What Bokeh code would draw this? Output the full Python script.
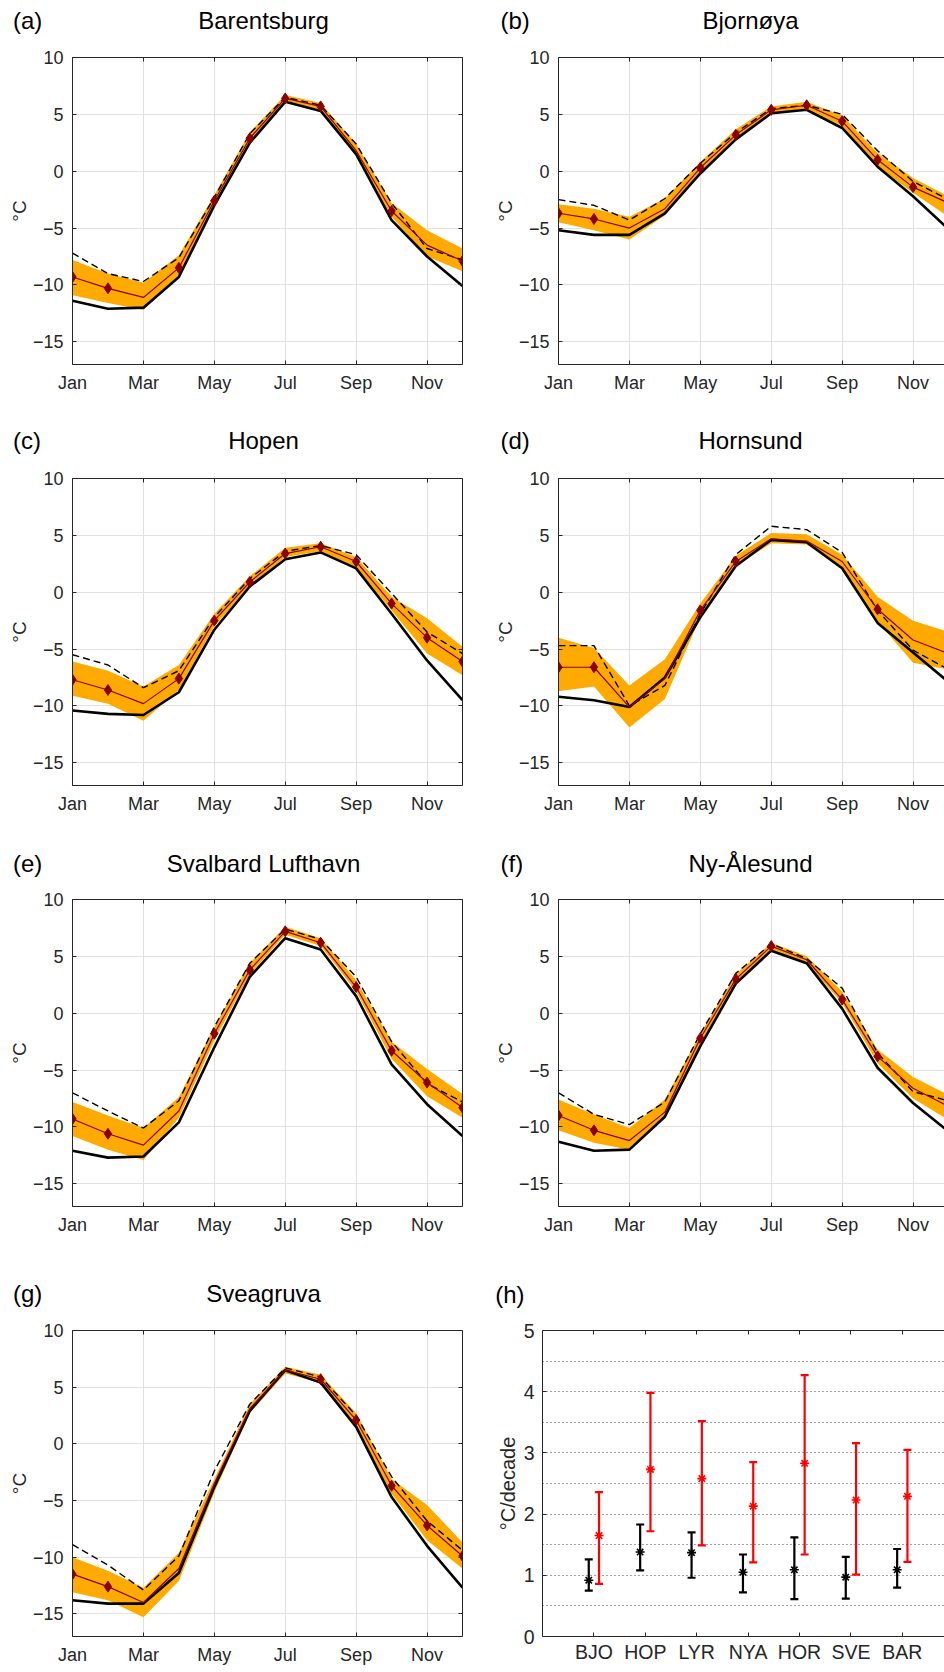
from bokeh.plotting import figure
from bokeh.models import Range1d, LinearAxis, FixedTicker
from bokeh.layouts import column, row
from bokeh.embed import file_html
from bokeh.resources import INLINE
from bokeh.core.properties import value

# ---------------- data ----------------
months = list(range(1, 13))
month_ticks = [1, 3, 5, 7, 9, 11]
month_labels = ["Jan", "Mar", "May", "Jul", "Sep", "Nov"]
temp_ticks = [-15, -10, -5, 0, 5, 10]
temp_tick_labels = ["\u221215", "\u221210", "\u22125", "0", "5", "10"]

stations = ["Barentsburg", "Bjornøya", "Hopen", "Hornsund",
            "Svalbard Lufthavn", "Ny-Ålesund", "Sveagruva"]
letters = ["(a)", "(b)", "(c)", "(d)", "(e)", "(f)", "(g)", "(h)"]

# Barentsburg
solid_a = [-11.4, -12.1, -12.0, -9.3, -3.0, 2.5, 6.1, 5.3, 1.5, -4.3, -7.5, -10.1]
dash_a = [-7.2, -9.0, -9.7, -7.6, -2.3, 3.3, 6.5, 5.8, 2.4, -2.8, -6.8, -7.8]
red_a = [-9.3, -10.3, -11.1, -8.5, -2.6, 2.9, 6.4, 5.7, 1.8, -3.5, -6.5, -7.9]
hi_a = [-7.8, -9.0, -9.8, -7.4, -2.1, 3.4, 6.7, 6.0, 2.4, -2.8, -5.2, -6.8]
lo_a = [-10.9, -11.6, -12.2, -9.1, -3.1, 2.4, 6.2, 5.4, 1.3, -4.0, -7.5, -8.8]
mk_a = [1, 2, 4, 5, 6, 7, 8, 10, 12]

# Bjornøya
solid_b = [-5.2, -5.6, -5.6, -3.7, -0.2, 2.8, 5.1, 5.4, 3.8, 0.4, -2.2, -5.1]
dash_b = [-2.5, -3.0, -4.3, -2.4, 0.7, 3.4, 5.5, 5.8, 5.0, 1.8, -0.9, -2.5]
red_b = [-3.7, -4.2, -5.0, -3.3, 0.3, 3.2, 5.4, 5.8, 4.4, 1.0, -1.4, -2.8]
hi_b = [-2.9, -3.3, -4.0, -2.4, 0.8, 3.7, 5.7, 6.1, 4.9, 1.6, -0.6, -2.2]
lo_b = [-4.5, -5.2, -6.0, -3.9, -0.2, 2.8, 5.0, 5.4, 4.0, 0.4, -1.9, -4.0]
mk_b = [1, 2, 5, 6, 7, 8, 9, 10, 11]

# Hopen
solid_c = [-10.4, -10.7, -10.8, -8.8, -3.3, 0.5, 2.9, 3.5, 2.1, -1.9, -6.0, -9.5]
dash_c = [-5.5, -6.4, -8.4, -6.9, -2.2, 1.2, 3.6, 4.1, 3.3, -0.1, -3.5, -5.4]
red_c = [-7.7, -8.6, -9.8, -7.6, -2.5, 0.9, 3.4, 4.0, 2.7, -1.0, -4.0, -6.1]
hi_c = [-6.1, -6.9, -8.3, -6.4, -1.9, 1.4, 3.9, 4.3, 3.1, -0.4, -2.3, -4.8]
lo_c = [-9.1, -9.8, -11.3, -8.6, -3.0, 0.5, 3.1, 3.6, 2.2, -1.6, -5.4, -7.3]
mk_c = [1, 2, 4, 5, 6, 7, 8, 9, 10, 11, 12]

# Hornsund
solid_d = [-9.2, -9.5, -10.1, -7.5, -2.2, 2.3, 4.6, 4.4, 2.1, -2.7, -5.3, -7.9]
dash_d = [-4.7, -4.7, -10.0, -8.2, -1.9, 3.3, 5.8, 5.5, 3.5, -1.6, -5.1, -6.8]
red_d = [-6.6, -6.6, -10.1, -7.6, -1.6, 2.7, 4.7, 4.5, 2.7, -1.5, -4.2, -5.4]
hi_d = [-4.0, -4.9, -8.2, -5.9, -1.0, 3.2, 5.2, 5.1, 3.3, -0.4, -2.5, -3.5]
lo_d = [-8.7, -8.3, -11.9, -9.4, -2.2, 2.3, 4.3, 4.2, 2.0, -2.6, -6.2, -6.8]
mk_d = [1, 2, 5, 6, 10]

# Svalbard Lufthavn
solid_e = [-12.1, -12.7, -12.6, -9.6, -3.0, 3.2, 6.6, 5.6, 1.5, -4.5, -8.0, -10.8]
dash_e = [-7.0, -8.6, -10.1, -7.7, -1.2, 4.4, 7.4, 6.5, 3.2, -2.5, -6.2, -7.8]
red_e = [-9.3, -10.6, -11.6, -8.6, -1.8, 3.8, 7.2, 6.2, 2.3, -3.3, -6.1, -8.3]
hi_e = [-7.8, -9.0, -10.1, -7.4, -1.2, 4.4, 7.6, 6.6, 2.9, -2.5, -4.9, -7.1]
lo_e = [-10.8, -12.0, -12.9, -9.2, -2.4, 3.4, 6.9, 5.9, 1.9, -4.0, -7.3, -9.2]
mk_e = [1, 2, 5, 6, 7, 8, 9, 10, 11, 12]

# Ny-Ålesund
solid_f = [-11.3, -12.1, -12.0, -9.1, -2.9, 2.6, 5.5, 4.4, 0.4, -4.8, -7.9, -10.4]
dash_f = [-7.0, -8.9, -9.8, -7.8, -1.8, 3.5, 6.1, 4.8, 2.2, -3.5, -6.9, -7.7]
red_f = [-9.0, -10.3, -11.2, -8.7, -2.2, 3.0, 5.9, 4.7, 1.2, -3.8, -6.6, -8.2]
hi_f = [-7.6, -8.9, -10.1, -7.6, -1.8, 3.4, 6.2, 5.0, 1.9, -3.2, -5.6, -7.2]
lo_f = [-10.3, -11.4, -12.0, -9.2, -2.7, 2.6, 5.6, 4.4, 0.9, -4.4, -7.5, -9.4]
mk_f = [1, 2, 5, 6, 7, 9, 10]

# Sveagruva
solid_g = [-13.8, -14.1, -14.1, -11.4, -3.8, 2.9, 6.5, 5.4, 1.5, -4.7, -9.0, -12.7]
dash_g = [-8.9, -10.7, -12.9, -9.9, -2.4, 3.5, 6.7, 5.9, 2.5, -2.9, -6.8, -9.4]
red_g = [-11.5, -12.6, -14.0, -11.0, -3.5, 3.1, 6.5, 5.7, 2.1, -3.7, -7.2, -9.9]
hi_g = [-10.0, -11.2, -12.7, -9.6, -3.1, 3.5, 6.8, 6.1, 2.7, -3.1, -5.4, -8.7]
lo_g = [-13.1, -13.8, -15.3, -12.1, -4.3, 2.7, 6.2, 5.4, 1.5, -4.4, -8.5, -11.0]
mk_g = [1, 2, 8, 9, 10, 11, 12]

# (h) trends, °C/decade
codes = ["BJO", "HOP", "LYR", "NYA", "HOR", "SVE", "BAR"]
black_mid = [0.92, 1.38, 1.37, 1.05, 1.09, 0.97, 1.09]
black_lo = [0.75, 1.08, 0.96, 0.72, 0.61, 0.62, 0.80]
black_hi = [1.26, 1.83, 1.70, 1.34, 1.62, 1.30, 1.43]
red_mid = [1.65, 2.73, 2.58, 2.13, 2.83, 2.23, 2.29]
red_lo = [0.86, 1.72, 1.49, 1.21, 1.34, 1.01, 1.22]
red_hi = [2.36, 3.98, 3.52, 2.85, 4.27, 3.16, 3.05]
trend_ticks = [0, 1, 2, 3, 4, 5]
trend_grid = [0.5, 1, 1.5, 2, 2.5, 3, 3.5, 4, 4.5]

# ---------------- style / layout ----------------
FONT = "Liberation Sans"
AX = "#262626"
ORANGE = "#ffaa00"
DARKRED = "#8b0000"

PAGE_W = 944
COL_W = 472
PX_MONTH = 390 / 11
HEAD_H = [44, 36, 36, 48]
PLOT_H = [376, 385, 385, 360]
PLOT_TOP = [13, 22, 22, 20]
FRAME_H = [307, 307, 307, 306]
TITLE_FS = "24px"
MID_TO_BASE = 8.3   # px between text-box middle and alphabetic baseline at 24px


def style_axis(ax, size="18px", labels=True):
    ax.axis_line_color = AX
    ax.axis_line_width = 1
    ax.major_tick_line_color = AX
    ax.major_tick_in = 4
    ax.major_tick_out = 0
    ax.minor_tick_line_color = None
    if labels:
        ax.major_label_text_font = FONT
        ax.major_label_text_font_size = size
        ax.major_label_text_color = AX
    else:
        ax.major_label_text_font_size = "1px"
        ax.major_label_text_color = None
        ax.major_label_standoff = 0


def month_panel(col, r, solid, dashed, red, lo, hi, mk):
    left = col == 0
    bl = 72 if left else 86
    fw = 390 if left else COL_W - 86
    br = COL_W - bl - fw
    ph_ = PLOT_H[r]
    top = PLOT_TOP[r]
    fh = FRAME_H[r]
    bb = ph_ - top - fh
    x_end = 1 + fw / PX_MONTH
    p = figure(width=COL_W, height=ph_, x_range=Range1d(1, x_end),
               y_range=Range1d(-17, 10), output_backend="svg", title=None,
               toolbar_location=None, min_border_left=bl, min_border_right=br,
               min_border_top=top, min_border_bottom=bb)
    p.outline_line_color = None
    p.background_fill_color = "white"
    p.border_fill_color = "white"

    p.xaxis.ticker = FixedTicker(ticks=month_ticks)
    p.xaxis.major_label_overrides = dict(zip(month_ticks, month_labels))
    p.xaxis.major_label_standoff = 8
    p.yaxis.ticker = FixedTicker(ticks=temp_ticks)
    p.yaxis.major_label_overrides = dict(zip(temp_ticks, temp_tick_labels))
    p.yaxis.major_label_standoff = 9
    style_axis(p.xaxis[0])
    style_axis(p.yaxis[0])
    p.yaxis.axis_label = "°C"
    p.yaxis.axis_label_text_font = FONT
    p.yaxis.axis_label_text_font_size = "19px"
    p.yaxis.axis_label_text_font_style = "normal"
    p.yaxis.axis_label_text_color = AX
    p.yaxis.axis_label_standoff = 0

    top_ax = LinearAxis(ticker=FixedTicker(ticks=month_ticks))
    style_axis(top_ax, labels=False)
    p.add_layout(top_ax, "above")
    if left:
        right_ax = LinearAxis(ticker=FixedTicker(ticks=temp_ticks))
        style_axis(right_ax, labels=False)
        p.add_layout(right_ax, "right")

    p.grid.grid_line_color = "#e1e1e1"
    p.grid.grid_line_width = 1

    p.varea(x=months, y1=lo, y2=hi, fill_color=ORANGE, fill_alpha=1)
    p.line(months, solid, line_color="black", line_width=2.6)
    p.line(months, dashed, line_color="black", line_width=1.4, line_dash="7 4")
    p.line(months, red, line_color=DARKRED, line_width=1.2)
    p.scatter(mk, [red[m - 1] for m in mk], marker="diamond", size=11,
              fill_color=DARKRED, line_color=DARKRED)
    return p


def header(height, baselines, texts):
    """texts: (text, page_x, align, baseline_index); baselines in px from the header top"""
    h = figure(width=PAGE_W, height=height, x_range=Range1d(0, PAGE_W),
               y_range=Range1d(0, height), output_backend="svg", title=None,
               toolbar_location=None, min_border_left=0, min_border_right=0,
               min_border_top=0, min_border_bottom=0,
               x_axis_location=None, y_axis_location=None)
    h.outline_line_color = None
    h.grid.visible = False
    for align in ("left", "center"):
        sel = [t for t in texts if t[2] == align]
        h.text(x=[t[1] for t in sel],
               y=[height - (baselines[t[3]] - MID_TO_BASE) for t in sel],
               text=[t[0] for t in sel], text_align=align,
               text_baseline="middle", text_font=value(FONT),
               text_font_size=value(TITLE_FS), text_color="black")
    return h


L_LET, R_LET, L_TIT, R_TIT = 12.5, 500, 263, 750

h1 = header(HEAD_H[0], [28.3], [(letters[0], L_LET, "left", 0), (stations[0], L_TIT, "center", 0),
                                 (letters[1], R_LET, "left", 0), (stations[1], R_TIT, "center", 0)])
h2 = header(HEAD_H[1], [28.3], [(letters[2], L_LET, "left", 0), (stations[2], L_TIT, "center", 0),
                                 (letters[3], R_LET, "left", 0), (stations[3], R_TIT, "center", 0)])
h3 = header(HEAD_H[2], [30.0], [(letters[4], L_LET, "left", 0), (stations[4], L_TIT, "center", 0),
                                 (letters[5], R_LET, "left", 0), (stations[5], R_TIT, "center", 0)])
h4 = header(HEAD_H[3], [39.0, 40.5], [(letters[6], L_LET, "left", 0), (stations[6], L_TIT, "center", 0),
                                       (letters[7], 494.7, "left", 1)])

pa = month_panel(0, 0, solid_a, dash_a, red_a, lo_a, hi_a, mk_a)
pb = month_panel(1, 0, solid_b, dash_b, red_b, lo_b, hi_b, mk_b)
pc = month_panel(0, 1, solid_c, dash_c, red_c, lo_c, hi_c, mk_c)
pd = month_panel(1, 1, solid_d, dash_d, red_d, lo_d, hi_d, mk_d)
pe = month_panel(0, 2, solid_e, dash_e, red_e, lo_e, hi_e, mk_e)
pf = month_panel(1, 2, solid_f, dash_f, red_f, lo_f, hi_f, mk_f)
pg = month_panel(0, 3, solid_g, dash_g, red_g, lo_g, hi_g, mk_g)

# ---------------- panel (h) ----------------
H_BL, H_TOP, H_BB = 70, 10, 27
H_FW = COL_W - H_BL
PX_H = 51.4
ph = figure(width=COL_W, height=PLOT_H[3], x_range=Range1d(0, H_FW / PX_H),
            y_range=Range1d(0, 5), output_backend="svg", toolbar_location=None,
            title=None, min_border_left=H_BL, min_border_right=0,
            min_border_top=H_TOP, min_border_bottom=H_BB)
ph.outline_line_color = None
xpos = list(range(1, len(codes) + 1))
ph.xaxis.ticker = FixedTicker(ticks=xpos)
ph.xaxis.major_label_overrides = dict(zip(xpos, codes))
ph.xaxis.major_label_standoff = 4
ph.yaxis.ticker = FixedTicker(ticks=trend_ticks)
ph.yaxis.major_label_standoff = 8
style_axis(ph.xaxis[0], size="19.5px")
style_axis(ph.yaxis[0], size="19.5px")
ph.yaxis.axis_label = "°C/decade"
ph.yaxis.axis_label_text_font = FONT
ph.yaxis.axis_label_text_font_size = "20px"
ph.yaxis.axis_label_text_font_style = "normal"
ph.yaxis.axis_label_text_color = AX
ph.yaxis.axis_label_standoff = 2
top_h = LinearAxis(ticker=FixedTicker(ticks=xpos))
style_axis(top_h, labels=False)
ph.add_layout(top_h, "above")
ph.xgrid.visible = False
ph.ygrid.ticker = FixedTicker(ticks=trend_grid)
ph.ygrid.grid_line_color = "#444444"
ph.ygrid.grid_line_dash = "1 3"
ph.ygrid.grid_line_width = 1

xb = [x - 0.1 for x in xpos]
xr = [x + 0.1 for x in xpos]
for xs, lo, mid, hi, col in [(xb, black_lo, black_mid, black_hi, "black"),
                             (xr, red_lo, red_mid, red_hi, "#ff0000")]:
    ph.segment(x0=xs, y0=lo, x1=xs, y1=hi, line_color=col, line_width=2.2)
    ph.scatter(xs, lo, marker="dash", size=8, line_color=col, line_width=2.2)
    ph.scatter(xs, hi, marker="dash", size=8, line_color=col, line_width=2.2)
    ph.scatter(xs, mid, marker="asterisk", size=9, line_color=col, line_width=1.6)

layout = column(h1, row(pa, pb), h2, row(pc, pd), h3, row(pe, pf), h4, row(pg, ph),
                spacing=0)

open("out.html", "w").write(file_html(layout, INLINE))
